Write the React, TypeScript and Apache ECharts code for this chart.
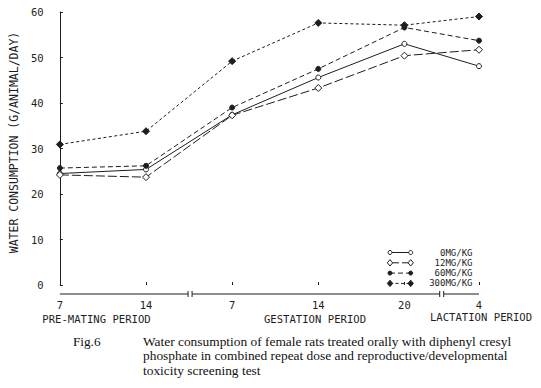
import React, { useEffect, useRef } from "react";
import * as echarts from "echarts";

// Sampling points along the study timeline (pre-mating day 7, 14; gestation day 7, 14, 20; lactation day 4)
const xPositions = [0, 1, 2, 3, 4, 4.866];
const xTickLabels = ["7", "14", "7", "14", "20", "4"];
const periodLabels = ["PRE-MATING PERIOD", "GESTATION PERIOD", "LACTATION PERIOD"];
const seriesNames = ["0MG/KG", "12MG/KG", "60MG/KG", "300MG/KG"];

const dose0 = [24.5, 25.4, 37.4, 45.6, 53.0, 48.1];
const dose12 = [24.2, 23.7, 37.3, 43.3, 50.4, 51.7];
const dose60 = [25.7, 26.2, 39.0, 47.5, 56.6, 53.7];
const dose300 = [30.9, 33.8, 49.2, 57.6, 57.1, 59.0];

const yTicks = [0, 10, 20, 30, 40, 50, 60];

const captionTitle = "Fig.6";
const captionLines = [
  "Water consumption of female rats treated orally with diphenyl cresyl",
  "phosphate in combined repeat dose and reproductive/developmental",
  "toxicity screening test",
];

const MONO = "DejaVu Sans Mono";
const SERIF = "Liberation Serif";
const INK = "#1e1e1e";

type Sty = { dash: number[] | "solid"; symbol: "circle" | "diamond"; filled: boolean; size: number };
const styles: Sty[] = [
  { dash: "solid", symbol: "circle", filled: false, size: 5 },
  { dash: [9, 3], symbol: "diamond", filled: false, size: 7 },
  { dash: [5, 3], symbol: "circle", filled: true, size: 5 },
  { dash: [3, 2.5], symbol: "diamond", filled: true, size: 7 },
];
const allData = [dose0, dose12, dose60, dose300];

export default function App() {
  const ref = useRef<HTMLDivElement>(null);
  useEffect(() => {
    if (!ref.current) return;
    const chart = echarts.init(ref.current, undefined, { renderer: "svg" });
    const series = allData.map((vals, i) => ({
      name: seriesNames[i],
      type: "line",
      data: vals.map((v, k) => [xPositions[k], v]),
      symbol: styles[i].symbol,
      symbolSize: styles[i].size,
      lineStyle: { color: INK, width: 1, type: styles[i].dash },
      itemStyle: {
        color: styles[i].filled ? INK : "#fff",
        borderColor: INK,
        borderWidth: 1,
      },
      z: 2 + i,
    }));
    chart.setOption({
      animation: false,
      backgroundColor: "#fff",
      grid: { left: 42, right: 62, top: 12, bottom: 103 },
      xAxis: {
        type: "value",
        min: -0.12,
        max: xPositions[xPositions.length - 1],
        offset: 9,
        axisLine: { show: false },
        splitLine: { show: false },
        axisTick: {
          show: true,
          inside: true,
          length: 3,
          customValues: xPositions,
          lineStyle: { color: INK, width: 1 },
        },
        axisLabel: {
          customValues: xPositions,
          formatter: (v: number) => {
            const idx = xPositions.findIndex((p) => Math.abs(p - v) < 1e-6);
            return idx >= 0 ? xTickLabels[idx] : "";
          },
          margin: 5,
          fontFamily: MONO,
          fontSize: 10.5,
          color: INK,
        },
      },
      yAxis: {
        type: "value",
        min: 0,
        max: 60,
        interval: 10,
        name: "WATER CONSUMPTION (G/ANIMAL/DAY)",
        nameLocation: "middle",
        nameGap: 29,
        nameTextStyle: { fontFamily: MONO, fontSize: 11.5, color: INK, padding: [0, 0, 0, 12] },
        axisLine: { show: true, lineStyle: { color: INK, width: 1 } },
        axisTick: { show: true, inside: true, length: 3, lineStyle: { color: INK } },
        splitLine: { show: false },
        axisLabel: {
          margin: 6,
          fontFamily: MONO,
          fontSize: 10.5,
          color: INK,
          customValues: yTicks,
        },
      },
      series,
    });

    // broken x-axis line
    const px = (v: number) => chart.convertToPixel({ xAxisIndex: 0 }, v) as number;
    const y0 = (chart.convertToPixel({ yAxisIndex: 0 }, 0) as number) + 9;
    const pts = xPositions.map(px);
    const b1 = (pts[1] + pts[2]) / 2 + 1;
    const b2 = (pts[4] + pts[5]) / 2;
    const g = 2;
    const segs: number[][] = [
      [pts[0], b1 - g],
      [b1 + g, b2 - g],
      [b2 + g, pts[5]],
    ];
    const graphics: any[] = [];
    segs.forEach(([a, b]) =>
      graphics.push({ type: "line", shape: { x1: a, y1: y0, x2: b, y2: y0 }, style: { stroke: INK, lineWidth: 1 } })
    );
    [b1 - g, b1 + g, b2 - g, b2 + g].forEach((x) =>
      graphics.push({ type: "line", shape: { x1: x, y1: y0 - 3, x2: x, y2: y0 + 3 }, style: { stroke: INK, lineWidth: 1 } })
    );

    // period labels
    const periodX = [96.5, 315, 481];
    const periodY = [319, 319, 317];
    periodLabels.forEach((t, i) =>
      graphics.push({
        type: "text",
        x: periodX[i],
        y: periodY[i],
        style: { text: t, fontFamily: MONO, fontSize: 10.6, fill: INK, align: "center", verticalAlign: "middle" },
      })
    );

    // legend
    const lx1 = 390, lx2 = 410.7, ltx = 472.5;
    seriesNames.forEach((name, i) => {
      const y = 252.5 + i * 10.3;
      const s = styles[i];
      graphics.push({
        type: "line",
        shape: { x1: lx1, y1: y, x2: lx2, y2: y },
        style: { stroke: INK, lineWidth: 1, lineDash: s.dash === "solid" ? null : s.dash },
      });
      [lx1, lx2].forEach((x) => {
        const fill = s.filled ? INK : "#fff";
        if (s.symbol === "circle") {
          graphics.push({ type: "circle", shape: { cx: x, cy: y, r: 2 }, style: { fill, stroke: INK, lineWidth: 1 }, z: 10 });
        } else {
          graphics.push({
            type: "polygon",
            shape: { points: [[x, y - 3.2], [x + 2.7, y], [x, y + 3.2], [x - 2.7, y]] },
            style: { fill, stroke: INK, lineWidth: 1 },
            z: 10,
          });
        }
      });
      graphics.push({
        type: "text",
        x: ltx,
        y,
        style: { text: name, fontFamily: MONO, fontSize: 9, fill: INK, align: "right", verticalAlign: "middle" },
      });
    });

    // caption
    const capY0 = 341;
    const capStep = 14.6;
    graphics.push({
      type: "text",
      x: 73,
      y: capY0,
      style: { text: captionTitle, fontFamily: SERIF, fontSize: 13.2, fill: "#111", verticalAlign: "middle" },
    });
    captionLines.forEach((t, i) =>
      graphics.push({
        type: "text",
        x: 143,
        y: capY0 + i * capStep,
        style: { text: t, fontFamily: SERIF, fontSize: 13.4, fill: "#111", verticalAlign: "middle" },
      })
    );

    chart.setOption({ graphic: graphics });
    return () => chart.dispose();
  }, []);
  return <div ref={ref} style={{ width: 541, height: 388, position: "absolute", left: 0, top: 0 }} />;
}
